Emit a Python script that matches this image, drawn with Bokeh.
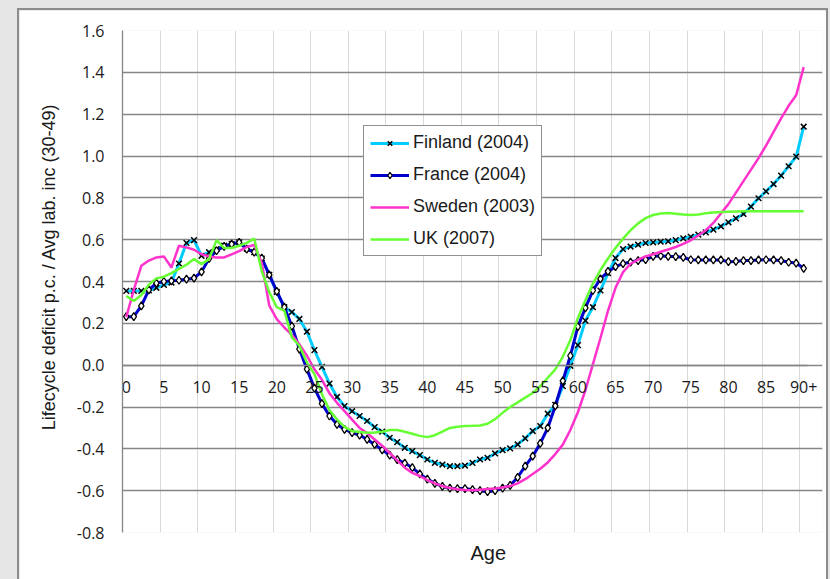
from bokeh.plotting import figure
from bokeh.models import (FixedTicker, NumeralTickFormatter, Legend, LegendItem, Title, Range1d,
                          CustomJSTickFormatter)
from bokeh.embed import file_html
from bokeh.resources import INLINE

ages = list(range(91))
x_tick_values = list(range(0, 91, 5))
x_tick_labels = ["0", "5", "10", "15", "20", "25", "30", "35", "40", "45",
                 "50", "55", "60", "65", "70", "75", "80", "85", "90+"]
y_tick_values = [-0.8, -0.6, -0.4, -0.2, 0.0, 0.2, 0.4, 0.6, 0.8, 1.0, 1.2, 1.4, 1.6]

series_names = ["Finland (2004)", "France (2004)", "Sweden (2003)", "UK (2007)"]

finland = [0.355, 0.355, 0.355, 0.357, 0.37, 0.384, 0.395, 0.486, 0.584, 0.598,
           0.523, 0.54, 0.555, 0.571, 0.579, 0.587, 0.557, 0.54, 0.51, 0.432,
           0.35, 0.277, 0.254, 0.221, 0.16, 0.072, -0.008, -0.088, -0.152, -0.196,
           -0.22, -0.243, -0.267, -0.296, -0.318, -0.347, -0.368, -0.395, -0.411, -0.43,
           -0.451, -0.467, -0.475, -0.483, -0.483, -0.48, -0.467, -0.451, -0.443, -0.422,
           -0.406, -0.398, -0.379, -0.35, -0.315, -0.291, -0.232, -0.19, -0.1, -0.003,
           0.096, 0.213, 0.277, 0.357, 0.44, 0.512, 0.555, 0.567, 0.576, 0.584,
           0.587, 0.59, 0.592, 0.598, 0.606, 0.614, 0.624, 0.635, 0.648, 0.664,
           0.683, 0.702, 0.723, 0.758, 0.798, 0.831, 0.866, 0.906, 0.951, 0.997,
           1.14]

france = [0.232, 0.232, 0.283, 0.36, 0.392, 0.40, 0.403, 0.406, 0.411, 0.416,
          0.446, 0.51, 0.547, 0.568, 0.579, 0.587, 0.555, 0.54, 0.512, 0.432,
          0.353, 0.278, 0.187, 0.077, -0.019, -0.11, -0.184, -0.243, -0.283, -0.307,
          -0.323, -0.334, -0.355, -0.379, -0.405, -0.43, -0.452, -0.468, -0.49, -0.52,
          -0.545, -0.565, -0.58, -0.588, -0.59, -0.59, -0.595, -0.6, -0.605, -0.6,
          -0.588, -0.575, -0.536, -0.483, -0.435, -0.374, -0.3, -0.195, -0.075, 0.045,
          0.184, 0.274, 0.357, 0.413, 0.448, 0.471, 0.485, 0.493, 0.50, 0.505,
          0.52, 0.523, 0.52, 0.519, 0.515, 0.504, 0.503, 0.503, 0.503, 0.503,
          0.495, 0.496, 0.50, 0.50, 0.503, 0.504, 0.503, 0.50, 0.492, 0.488,
          0.463]

sweden = [0.23, 0.36, 0.475, 0.50, 0.515, 0.52, 0.467, 0.571, 0.563, 0.552,
          0.53, 0.52, 0.515, 0.515, 0.53, 0.545, 0.565, 0.575, 0.49, 0.285,
          0.22, 0.18, 0.145, 0.10, 0.045, -0.02, -0.07, -0.135, -0.18, -0.22,
          -0.26, -0.30, -0.325, -0.355, -0.385, -0.42, -0.455, -0.49, -0.515, -0.53,
          -0.55, -0.565, -0.578, -0.587, -0.593, -0.597, -0.598, -0.596, -0.592, -0.59,
          -0.585, -0.578, -0.565, -0.545, -0.52, -0.495, -0.465, -0.425, -0.38, -0.31,
          -0.225, -0.12, 0.005, 0.13, 0.26, 0.37, 0.445, 0.485, 0.505, 0.52,
          0.53, 0.542, 0.553, 0.565, 0.58, 0.597, 0.62, 0.645, 0.68, 0.725,
          0.77, 0.825, 0.88, 0.935, 0.99, 1.05, 1.115, 1.18, 1.24, 1.29,
          1.425]

uk = [0.331, 0.307, 0.335, 0.385, 0.415, 0.423, 0.44, 0.46, 0.48, 0.507,
      0.483, 0.507, 0.598, 0.56, 0.56, 0.571, 0.585, 0.605, 0.45, 0.349,
      0.277, 0.261, 0.133, 0.093, 0.013, -0.043, -0.139, -0.215, -0.26, -0.295,
      -0.315, -0.32, -0.323, -0.322, -0.318, -0.31, -0.31, -0.318, -0.328, -0.338,
      -0.344, -0.335, -0.318, -0.3, -0.294, -0.291, -0.29, -0.288, -0.28, -0.258,
      -0.228, -0.2, -0.178, -0.155, -0.133, -0.1, -0.06, -0.02, 0.04, 0.12,
      0.225, 0.31, 0.39, 0.455, 0.51, 0.56, 0.605, 0.645, 0.678, 0.703,
      0.718, 0.725, 0.727, 0.724, 0.72, 0.718, 0.72, 0.726, 0.73, 0.732,
      0.734, 0.735, 0.736, 0.736, 0.736, 0.736, 0.736, 0.736, 0.736, 0.736,
      0.736]

GRID_DARK = "#868686"
GRID_LIGHT = "#dadada"
TEXT = "#1a1a1a"
X_START, X_END = -0.5, 90.5          # category area of the chart
X_VIEW_END = 92.5                     # a little room right of it for the "90+" label

p = figure(width=807, height=569,
           x_range=Range1d(X_START, X_VIEW_END), y_range=Range1d(-0.8, 1.6),
           output_backend="svg", toolbar_location=None,
           min_border_left=103, min_border_right=4, min_border_top=20, min_border_bottom=47,
           margin=(10, 0, 0, 19),
           border_fill_color="white", background_fill_color="white",
           outline_line_color=None,
           styles={"outline": "2px solid #8c8c8c"})

# grids
p.xgrid.ticker = FixedTicker(ticks=[t - 0.5 for t in x_tick_values])
p.xgrid.grid_line_color = GRID_LIGHT
p.xgrid.grid_line_width = 1
p.ygrid.ticker = FixedTicker(ticks=y_tick_values)
p.ygrid.grid_line_color = GRID_DARK
p.ygrid.grid_line_width = 1.3
p.ygrid.bounds = (X_START, X_END)

# x axis drawn along y = 0
xa = p.xaxis[0]
xa.fixed_location = 0
xa.bounds = (X_START, X_END)
xa.ticker = FixedTicker(ticks=x_tick_values)
xa.formatter = CustomJSTickFormatter(
    args=dict(vals=x_tick_values, labels=x_tick_labels),
    code="const i = vals.indexOf(Math.round(tick)); return i >= 0 ? labels[i] : String(tick);")
xa.major_tick_line_color = None
xa.minor_tick_line_color = None
xa.major_tick_out = 0
xa.major_tick_in = 0
xa.axis_line_color = GRID_DARK
xa.axis_line_width = 1.3
xa.major_label_standoff = 16
xa.major_label_text_font = "Open Sans"
xa.major_label_text_font_size = "16px"
xa.major_label_text_color = TEXT

ya = p.yaxis[0]
ya.ticker = FixedTicker(ticks=y_tick_values)
ya.formatter = NumeralTickFormatter(format="0.0")
ya.major_tick_line_color = None
ya.minor_tick_line_color = None
ya.major_tick_out = 0
ya.major_tick_in = 0
ya.axis_line_color = GRID_DARK
ya.axis_line_width = 1.3
ya.major_label_standoff = 18
ya.major_label_text_font = "Open Sans"
ya.major_label_text_font_size = "16px"
ya.major_label_text_color = TEXT

p.add_layout(Title(text="Lifecycle deficit p.c. / Avg lab. inc (30-49)", align="right",
                   offset=73, text_font="Liberation Sans", text_font_size="18px",
                   text_font_style="normal", text_color=TEXT, standoff=30), "left")

# series
r_fi = p.line(ages, finland, line_color="#00ccff", line_width=3)
m_fi = p.scatter(ages, finland, marker="x", size=8, line_color="black", line_width=1.5)
r_fr = p.line(ages, france, line_color="#0000cc", line_width=3)
m_fr = p.scatter(ages, france, marker="diamond", size=8, fill_color="white",
                 line_color="black", line_width=1.3)
r_sw = p.line(ages, sweden, line_color="#ff33cc", line_width=2.5)
r_uk = p.line(ages, uk, line_color="#66ff33", line_width=2.5)

legend = Legend(items=[
    LegendItem(label=series_names[0], renderers=[r_fi, m_fi]),
    LegendItem(label=series_names[1], renderers=[r_fr, m_fr]),
    LegendItem(label=series_names[2], renderers=[r_sw]),
    LegendItem(label=series_names[3], renderers=[r_uk]),
], location=(241, 276), margin=0, padding=6, spacing=11,
    glyph_height=16, label_height=16, glyph_width=39, label_standoff=4,
    label_text_font="Liberation Sans", label_text_font_size="18px",
    label_text_color=TEXT,
    border_line_color="#222222", border_line_width=1.3,
    background_fill_color="white", background_fill_alpha=1.0)
p.add_layout(legend)

p.add_layout(Title(text="Age", align="left", offset=348, text_font="Liberation Sans",
                   text_font_size="20px", text_font_style="normal",
                   text_color=TEXT, standoff=15), "below")

html = file_html(p, INLINE)
html = html.replace("<head>", "<head><style>html,body{margin:0;padding:0;background:#e6e6e6;overflow:hidden}</style>", 1)
open("out.html", "w").write(html)
